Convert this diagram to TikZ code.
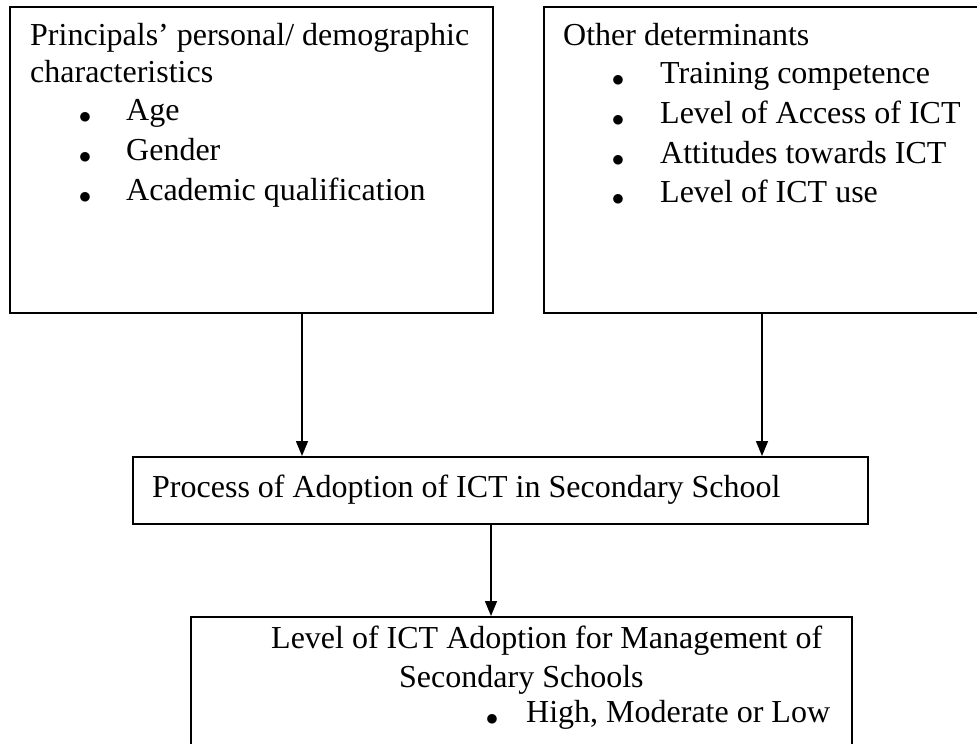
\documentclass[tikz,border=0pt]{standalone}
\usepackage{fontspec}
\setmainfont{Liberation Serif}
\usetikzlibrary{arrows.meta,positioning}

\begin{document}
\begin{tikzpicture}[
    % GLOBAL CFG
    x=1pt, y=-1pt,
    font=\fontsize{32}{39}\selectfont,
    >={Triangle[width=12pt,length=15pt]},
    % Styles
    box/.style={% the framed boxes
        rectangle,
        draw,
        line width=1.5pt,
        anchor=north west,
        inner sep=0pt,
        },
    txt/.style={% one line of text
        inner sep=0pt,
        anchor=base west,
        },
    dot/.style={% bullets, a bit bigger
        inner sep=0pt,
        anchor=base,
        font=\fontsize{56}{39}\selectfont,
        },
    ArrowD/.style={% straight arrows down
        ->,
        line width=1.5pt,
        },
    ]

    \useasboundingbox (0,0) rectangle (977,744);
    \clip (0,0) rectangle (977,744);

    % Draw the boxes
    \node [box, minimum width=483, minimum height=306] (pers) at (9,6) {};
    \node [box, minimum width=460, minimum height=306] (other) at (543,6) {};
    \node [box, minimum width=735, minimum height=67] (proc) at (132,456) {};
    \node [box, minimum width=661, minimum height=150] (level) at (190,616) {};

    % Texts of the left box
    \node [txt] (persT1) at (30,45) {Principals’ personal/ demographic};
    \node [txt] (persT2) at (30,82) {characteristics};
    \node [dot] (persB1) at (85,120) {\raisebox{-3pt}{$\bullet$}};
    \node [txt] (persI1) at (126,120) {Age};
    \node [dot] (persB2) at (85,160) {\raisebox{-3pt}{$\bullet$}};
    \node [txt] (persI2) at (126,160) {Gender};
    \node [dot] (persB3) at (85,200) {\raisebox{-3pt}{$\bullet$}};
    \node [txt] (persI3) at (126,200) {Academic qualification};

    % Texts of the right box
    \node [txt] (otherT) at (563,45) {Other determinants};
    \node [dot] (otherB1) at (618,83) {\raisebox{-3pt}{$\bullet$}};
    \node [txt] (otherI1) at (660,83) {Training competence};
    \node [dot] (otherB2) at (618,123) {\raisebox{-3pt}{$\bullet$}};
    \node [txt] (otherI2) at (660,123) {Level of Access of ICT};
    \node [dot] (otherB3) at (618,163) {\raisebox{-3pt}{$\bullet$}};
    \node [txt] (otherI3) at (660,163) {Attitudes towards ICT};
    \node [dot] (otherB4) at (618,202) {\raisebox{-3pt}{$\bullet$}};
    \node [txt] (otherI4) at (660,202) {Level of ICT use};

    % Middle and bottom texts
    \node [txt] (procT) at (152,497) {Process of Adoption of ICT in Secondary School};
    \node [txt] (levelT1) at (271,648) {Level of ICT Adoption for Management of};
    \node [txt] (levelT2) at (399,687) {Secondary Schools};
    \node [dot] (levelB1) at (492,722) {\raisebox{-3pt}{$\bullet$}};
    \node [txt] (levelI1) at (526,722) {High, Moderate or Low};

    % x of the arrows
    \coordinate (xl) at (302,0);
    \coordinate (xr) at (762,0);
    \coordinate (xm) at (491,0);

    % Drawing arrows
    \draw [ArrowD] (pers.south -| xl) -- (proc.north -| xl);
    \draw [ArrowD] (other.south -| xr) -- (proc.north -| xr);
    \draw [ArrowD] (proc.south -| xm) -- (level.north -| xm);

\end{tikzpicture}
\end{document}
